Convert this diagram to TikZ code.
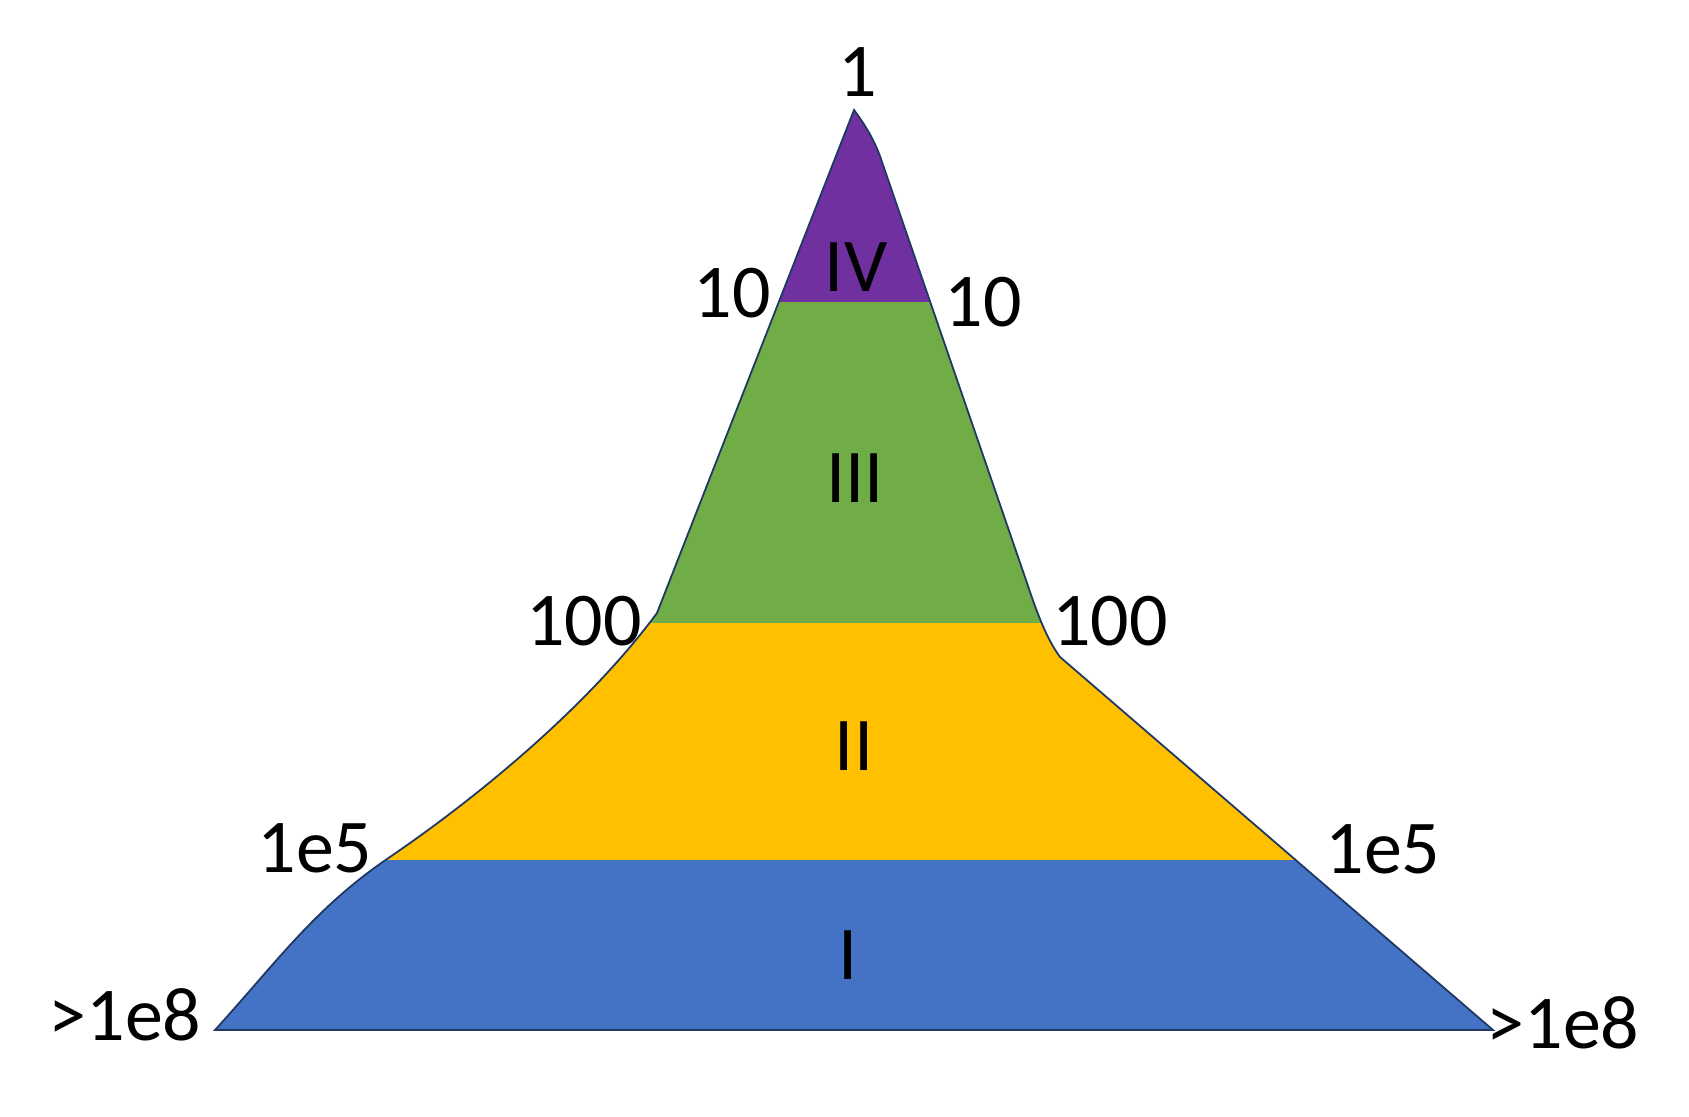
\documentclass[tikz,border=0pt]{standalone}
\usepackage{fontspec}
\setmainfont{Carlito}
\definecolor{cIV}{HTML}{7030A0}
\definecolor{cIII}{HTML}{70AD47}
\definecolor{cII}{HTML}{FFC000}
\definecolor{cI}{HTML}{4472C4}
\definecolor{edgecol}{HTML}{203864}
\newcommand{\pyrshape}{(854,110) .. controls (866,126) and (876,143) .. (882,162) -- (1027,583) .. controls (1036,610) and (1046,638) .. (1060,657) -- (1493,1030) -- (215,1030) .. controls (276,963) and (314,909) .. (387,859) .. controls (487,791) and (592,701) .. (657,613) -- cycle}
\begin{document}
\begin{tikzpicture}[x=0.5pt,y=-0.5pt,
  lbl/.style={font=\fontsize{38}{40}\selectfont, inner sep=0pt, anchor=base},
  edge/.style={draw=edgecol, line width=0.9pt}]
\fill[white] (0,0) rectangle (1689,1117);
\useasboundingbox (0,0) rectangle (1689,1117);
\begin{scope}
  \clip \pyrshape;
  \fill[cIV] (0,0) rectangle (1689,302);
  \fill[cIII] (0,302) rectangle (1689,623);
  \fill[cII] (0,623) rectangle (1689,860);
  \fill[cI] (0,860) rectangle (1689,1117);
\end{scope}
\draw[edge] \pyrshape;
% band labels
\node[lbl] (lIV) at (856,292) {IV};
\node[lbl] (lIII) at (855,502) {III};
\node[lbl] (lII) at (854,770) {II};
\node[lbl] (lI) at (848,979) {I};
% value labels
\node[lbl] (top) at (858,97) {1};
\node[lbl] (tenL) at (732,318) {10};
\node[lbl] (tenR) at (983,327) {10};
\node[lbl] (hundL) at (584,645) {100};
\node[lbl] (hundR) at (1110,645) {100};
\node[lbl] (eL) at (315,872) {1e5};
\node[lbl] (eR) at (1383,873) {1e5};
\node[lbl] (bL) at (125,1040) {>1e8};
\node[lbl] (bR) at (1563,1048) {>1e8};
\end{tikzpicture}
\end{document}
